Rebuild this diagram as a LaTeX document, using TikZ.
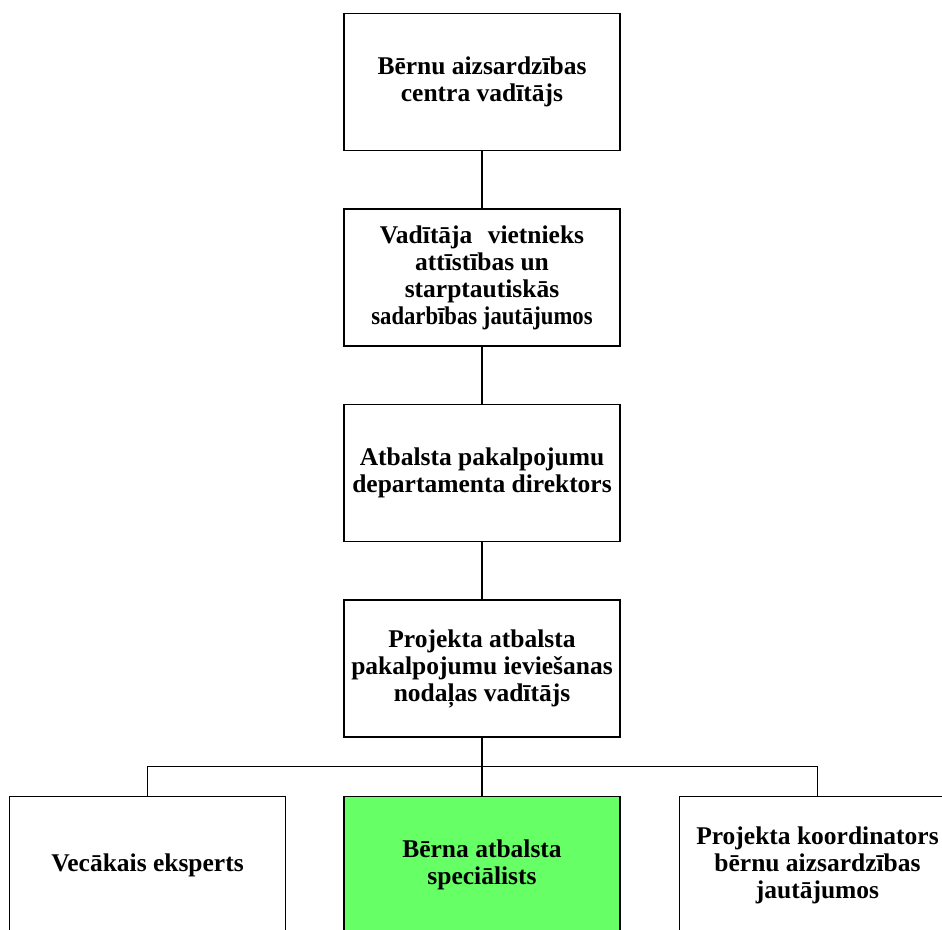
\documentclass[tikz,border=0pt]{standalone}
\usepackage{fontspec}
\setmainfont{Liberation Serif}
\usetikzlibrary{positioning,calc}
\def\dx{57pt}
\def\dy{57pt}
\definecolor{postgreen}{HTML}{66FF66}
\tikzstyle{post}=[draw,line width=1.5pt,minimum width=276pt,minimum height=137pt,
  align=center,font=\fontsize{25.5}{27}\selectfont\bfseries,inner sep=4pt]
\newcommand{\newPost}[4]{\node[post,#4](#1)[#3]{#2};}
\newcommand{\newLink}[2]{\draw (#1.south) -- (#2.north);}
\begin{document}
\begin{tikzpicture}[node distance=\dy and \dx,
        line width=1.5pt
        ]
        \useasboundingbox (0,0) rectangle (942pt,929pt);
        \newPost{head}{Bērnu aizsardzības\\centra vadītājs}{}{at={(482pt,847pt)}}
        \newPost{deputy}{Vadītāja\hspace{0.6em}vietnieks\\attīstības un\\starptautiskās\\\scalebox{0.89}[1]{sadarbības jautājumos}}{below=of head}{}
        \newPost{director}{Atbalsta pakalpojumu\\departamenta direktors}{below=of deputy}{}
        \newPost{unit}{Projekta atbalsta\\pakalpojumu ieviešanas\\nodaļas vadītājs}{below=of director}{}
        \newPost{child}{Bērna atbalsta\\speciālists}{below=58pt of unit}{fill=postgreen}
        \newPost{expert}{Vecākais eksperts}{left=of child}{}
        \newPost{coord}{Projekta koordinators\\bērnu aizsardzības\\jautājumos}{right=58pt of child}{}
        \newLink{head}{deputy}
        \newLink{deputy}{director}
        \newLink{director}{unit}
        \newLink{unit}{child}
        \coordinate (bus) at ($(unit.south)!.5!(child.north)$);
        \draw (expert.north) |- (bus) -| (coord.north);
\end{tikzpicture}
\end{document}
